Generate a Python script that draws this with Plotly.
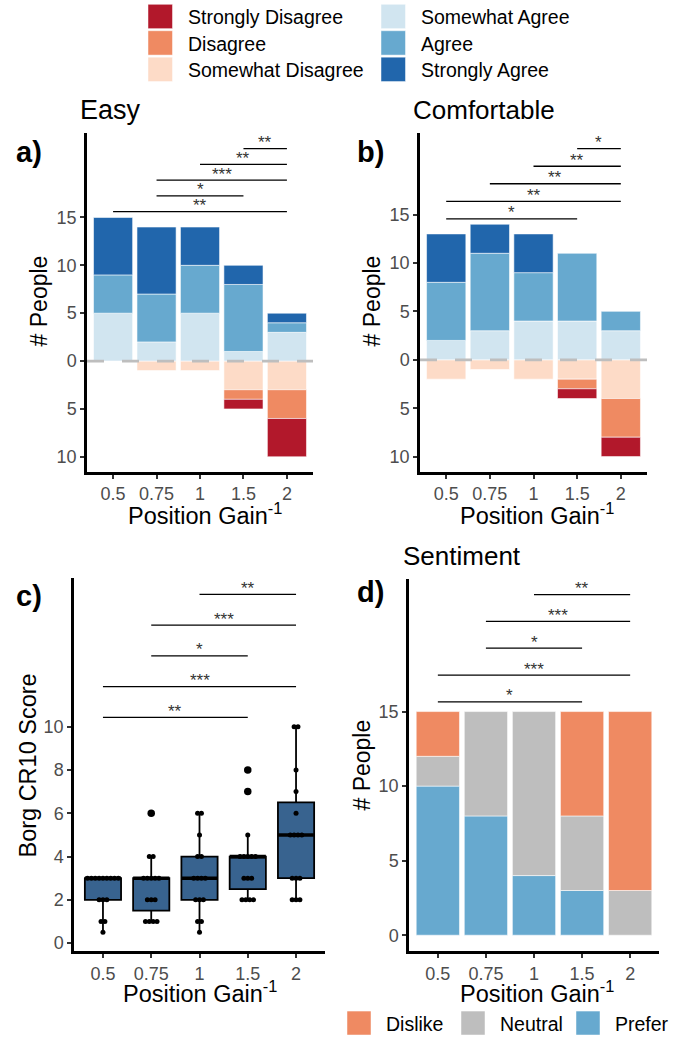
import plotly.graph_objects as go
import numpy as np

# ---------------- data ----------------
categories = ["0.5", "0.75", "1", "1.5", "2"]

likert_levels = ["Strongly Disagree", "Disagree", "Somewhat Disagree",
                 "Somewhat Agree", "Agree", "Strongly Agree"]
likert_colors = ["#B2182B", "#EF8A62", "#FDDBC7", "#D1E5F0", "#67A9CF", "#2166AC"]

easy_strongly_disagree = [0, 0, 0, 1, 4]
easy_disagree = [0, 0, 0, 1, 3]
easy_somewhat_disagree = [0, 1, 1, 3, 3]
easy_somewhat_agree = [5, 2, 5, 1, 3]
easy_agree = [4, 5, 5, 7, 1]
easy_strongly_agree = [6, 7, 4, 2, 1]

comf_strongly_disagree = [0, 0, 0, 1, 2]
comf_disagree = [0, 0, 0, 1, 4]
comf_somewhat_disagree = [2, 1, 2, 2, 4]
comf_somewhat_agree = [2, 3, 4, 4, 3]
comf_agree = [6, 8, 5, 7, 2]
comf_strongly_agree = [5, 3, 4, 0, 0]

sentiment_levels = ["Dislike", "Neutral", "Prefer"]
sentiment_colors = ["#EF8A62", "#BEBEBE", "#67A9CF"]
sentiment_dislike = [3, 0, 0, 7, 12]
sentiment_neutral = [2, 7, 11, 5, 3]
sentiment_prefer = [10, 8, 4, 3, 0]

borg_0_5 = [3, 3, 3, 3, 3, 3, 3, 3, 3, 2, 2, 2, 1, 1, 0.5]
borg_0_75 = [6, 4, 4, 3, 3, 3, 3, 3, 2, 2, 2, 1, 1, 1, 1]
borg_1 = [6, 6, 5, 4, 4, 3, 3, 3, 3, 2, 2, 2, 1, 1, 0.5]
borg_1_5 = [8, 7, 5, 4, 4, 4, 4, 4, 3, 3, 3, 2, 2, 2, 2]
borg_2 = [10, 10, 8, 7, 6, 5, 5, 5, 5, 3, 3, 3, 2, 2, 2]

# significance comparisons, listed bottom to top
easy_sig = [("0.5", "2", "**"), ("0.75", "1.5", "*"), ("0.75", "2", "***"),
            ("1", "2", "**"), ("1.5", "2", "**")]
comf_sig = [("0.5", "1.5", "*"), ("0.5", "2", "**"), ("0.75", "2", "**"),
            ("1", "2", "**"), ("1.5", "2", "*")]
borg_sig = [("0.5", "1.5", "**"), ("0.5", "2", "***"), ("0.75", "1.5", "*"),
            ("0.75", "2", "***"), ("1", "2", "**")]
sent_sig = [("0.5", "1.5", "*"), ("0.5", "2", "***"), ("0.75", "1.5", "*"),
            ("0.75", "2", "***"), ("1", "2", "**")]

# ---------------- styling ----------------
FONT = "Liberation Sans, Arial, Helvetica, sans-serif"
W, H = 683, 1040
BOX_FILL = "#38638F"


def fx(px):
    return px / W


def fy(py):
    return 1 - py / H


xpos = list(range(len(categories)))
cat_index = {c: i for i, c in enumerate(categories)}

panels = {
    "a": dict(xa="x", ya="y", xdom=(87, 313), ydom=(133, 473), yrange=(-11.6, 23.85),
              sig=easy_sig, sig_base=15.6, sig_step=1.65),
    "b": dict(xa="x2", ya="y2", xdom=(420, 647), ydom=(133, 473), yrange=(-11.6, 23.45),
              sig=comf_sig, sig_base=14.56, sig_step=1.81),
    "c": dict(xa="x3", ya="y3", xdom=(74, 325), ydom=(579, 953), yrange=(-0.37, 16.87),
              sig=borg_sig, sig_base=10.43, sig_step=1.42),
    "d": dict(xa="x4", ya="y4", xdom=(409, 659), ydom=(580, 953), yrange=(-1.07, 23.9),
              sig=sent_sig, sig_base=15.65, sig_step=1.8),
}

fig = go.Figure()


def nz(vals, sign=1):
    return [sign * v if v != 0 else None for v in vals]


bar_line = dict(color="rgba(255,255,255,0.7)", width=0.8)

# ---- panels a & b: diverging stacked bars ----
easy_sets = {
    "Somewhat Disagree": easy_somewhat_disagree, "Disagree": easy_disagree,
    "Strongly Disagree": easy_strongly_disagree, "Somewhat Agree": easy_somewhat_agree,
    "Agree": easy_agree, "Strongly Agree": easy_strongly_agree,
}
comf_sets = {
    "Somewhat Disagree": comf_somewhat_disagree, "Disagree": comf_disagree,
    "Strongly Disagree": comf_strongly_disagree, "Somewhat Agree": comf_somewhat_agree,
    "Agree": comf_agree, "Strongly Agree": comf_strongly_agree,
}
stack_order = ["Somewhat Disagree", "Disagree", "Strongly Disagree",
               "Somewhat Agree", "Agree", "Strongly Agree"]
color_of = dict(zip(likert_levels, likert_colors))

for key, sets in (("a", easy_sets), ("b", comf_sets)):
    p = panels[key]
    for lvl in stack_order:
        sign = -1 if "Disagree" in lvl else 1
        fig.add_trace(go.Bar(
            x=xpos, y=nz(sets[lvl], sign), name=lvl,
            marker=dict(color=color_of[lvl], line=bar_line),
            xaxis=p["xa"], yaxis=p["ya"], showlegend=False, hoverinfo="skip"))

# ---- panel d: stacked bars ----
pd_ = panels["d"]
for lvl, vals in (("Prefer", sentiment_prefer), ("Neutral", sentiment_neutral),
                  ("Dislike", sentiment_dislike)):
    fig.add_trace(go.Bar(
        x=xpos, y=nz(vals), name=lvl,
        marker=dict(color=sentiment_colors[sentiment_levels.index(lvl)], line=bar_line),
        xaxis=pd_["xa"], yaxis=pd_["ya"], showlegend=False, hoverinfo="skip"))

# ---- panel c: box plots + dot plot ----
pc = panels["c"]
borg_all = [borg_0_5, borg_0_75, borg_1, borg_1_5, borg_2]
bx, by = [], []
for i, vals in enumerate(borg_all):
    bx += [i] * len(vals)
    by += vals
fig.add_trace(go.Box(
    x=bx, y=by, width=0.75, quartilemethod="inclusive", boxpoints="outliers",
    pointpos=0, jitter=0, whiskerwidth=0, fillcolor=BOX_FILL,
    line=dict(color="black", width=1.8), marker=dict(color="black", size=7.5),
    xaxis=pc["xa"], yaxis=pc["ya"], showlegend=False, hoverinfo="skip"))

mx, my = [], []
for i, vals in enumerate(borg_all):
    med = float(np.median(vals))
    mx += [i - 0.375, i + 0.375, None]
    my += [med, med, None]
fig.add_trace(go.Scatter(x=mx, y=my, mode="lines", line=dict(color="black", width=3.5),
                         xaxis=pc["xa"], yaxis=pc["ya"], showlegend=False, hoverinfo="skip"))

dx, dy = [], []
DOT_STEP = 0.08
for i, vals in enumerate(borg_all):
    uniq, counts = np.unique(vals, return_counts=True)
    for v, k in zip(uniq, counts):
        for m in range(k):
            dx.append(i + (m - (k - 1) / 2) * DOT_STEP)
            dy.append(float(v))
fig.add_trace(go.Scatter(x=dx, y=dy, mode="markers",
                         marker=dict(color="black", size=5, line=dict(width=0)),
                         xaxis=pc["xa"], yaxis=pc["ya"], showlegend=False, hoverinfo="skip"))

# ---- significance brackets ----
annotations = []
for key, p in panels.items():
    for k, (c1, c2, lab) in enumerate(p["sig"]):
        lvl = p["sig_base"] + p["sig_step"] * k
        i, j = cat_index[c1], cat_index[c2]
        fig.add_trace(go.Scatter(x=[i, j], y=[lvl, lvl], mode="lines",
                                 line=dict(color="black", width=1.3),
                                 xaxis=p["xa"], yaxis=p["ya"], showlegend=False,
                                 hoverinfo="skip"))
        annotations.append(dict(x=(i + j) / 2, y=lvl, xref=p["xa"], yref=p["ya"],
                                text=lab, showarrow=False, yanchor="middle", yshift=6,
                                font=dict(family=FONT, size=17, color="#333333")))

# ---- axes ----
layout = {}
common = dict(showline=True, linecolor="black", linewidth=2.5, ticks="outside",
              ticklen=4, tickwidth=1.8, tickcolor="#333333", showgrid=False,
              zeroline=False, fixedrange=True,
              tickfont=dict(family=FONT, size=18, color="#4D4D4D"))
ytick_sets = {
    "a": [-10, -5, 0, 5, 10, 15], "b": [-10, -5, 0, 5, 10, 15],
    "c": [0, 2, 4, 6, 8, 10], "d": [0, 5, 10, 15],
}
for key, p in panels.items():
    xname = "xaxis" + p["xa"][1:]
    yname = "yaxis" + p["ya"][1:]
    layout[xname] = dict(domain=[fx(p["xdom"][0]), fx(p["xdom"][1])], range=[-0.6, 4.6],
                         anchor=p["ya"], tickvals=xpos, ticktext=categories, **common)
    tv = ytick_sets[key]
    layout[yname] = dict(domain=[fy(p["ydom"][1]), fy(p["ydom"][0])], range=list(p["yrange"]),
                         anchor=p["xa"], tickvals=tv,
                         ticktext=[f"{abs(v):g}" for v in tv], **common)

# ---- zero dashed lines (a, b) ----
shapes = []
for key in ("a", "b"):
    p = panels[key]
    shapes.append(dict(type="line", xref=p["xa"] + " domain", yref=p["ya"],
                       x0=0, x1=1, y0=0, y1=0,
                       line=dict(color="#BEBEBE", width=2.7, dash="17px,18px")))

# ---- titles, panel letters, axis titles ----
def txt(text, x, y, size, xanchor="left", bold=False, angle=0, color="black"):
    return dict(text=f"<b>{text}</b>" if bold else text, x=fx(x), y=fy(y),
                xref="paper", yref="paper", showarrow=False, xanchor=xanchor,
                yanchor="middle", textangle=angle, borderpad=0,
                font=dict(family=FONT, size=size, color=color))

annotations += [
    txt("Easy", 79, 110, 27),
    txt("Comfortable", 412, 110, 26),
    txt("Sentiment", 402, 557, 26),
    txt("a)", 15, 152, 29, bold=True),
    txt("b)", 356, 152, 29, bold=True),
    txt("c)", 15, 597, 29, bold=True),
    txt("d)", 356, 593, 29, bold=True),
]
xt = "Position Gain<sup>-1</sup>"
annotations += [
    txt(xt, 205, 515, 23.5, xanchor="center"),
    txt(xt, 537, 515, 23.5, xanchor="center"),
    txt(xt, 200, 994, 23.5, xanchor="center"),
    txt(xt, 537, 994, 23.5, xanchor="center"),
    txt("# People", 39, 302, 23, xanchor="center", angle=-90),
    txt("# People", 372, 302, 23, xanchor="center", angle=-90),
    txt("Borg CR10 Score", 28, 767, 23.5, xanchor="center", angle=-90),
    txt("# People", 362, 767, 23, xanchor="center", angle=-90),
]

# ---- top legend (Likert) ----
for n, (lvl, col) in enumerate(zip(likert_levels, likert_colors)):
    colx = 148 if n < 3 else 381
    row = n % 3
    yc = 16.5 + row * 26.5
    shapes.append(dict(type="rect", xref="paper", yref="paper",
                       x0=fx(colx), x1=fx(colx + 24.5), y0=fy(yc + 12.2), y1=fy(yc - 12.2),
                       fillcolor=col, line=dict(color="rgba(255,255,255,0.6)", width=0.8)))
    annotations.append(txt(lvl, colx + 39, yc + 1, 19.5))

# ---- bottom legend (sentiment) ----
for n, (lvl, col) in enumerate(zip(sentiment_levels, sentiment_colors)):
    x0 = [347, 461, 576][n]
    yc = 1025
    shapes.append(dict(type="rect", xref="paper", yref="paper",
                       x0=fx(x0), x1=fx(x0 + 24), y0=fy(yc + 12), y1=fy(yc - 12),
                       fillcolor=col, line=dict(color="rgba(255,255,255,0.6)", width=0.8)))
    annotations.append(txt(lvl, x0 + 38, yc + 1, 19.5))

fig.update_layout(
    width=W, height=H, margin=dict(l=0, r=0, t=0, b=0),
    paper_bgcolor="white", plot_bgcolor="white",
    barmode="relative", bargap=0.1,
    font=dict(family=FONT),
    shapes=shapes, annotations=annotations, showlegend=False,
    **layout)

fig.write_html("out.html", config={"displayModeBar": False},
               post_script="document.body.style.margin='0';document.body.style.padding='0';")
